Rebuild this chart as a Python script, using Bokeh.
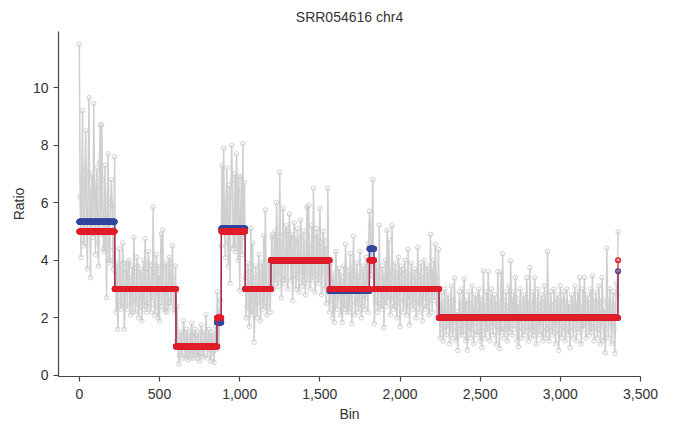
import numpy as np
from bokeh.plotting import figure
from bokeh.models import Range1d, FixedTicker, NumeralTickFormatter
from bokeh.embed import file_html
from bokeh.resources import INLINE

# ---- data ----
title_text = "SRR054616 chr4"
bin_step = 5   # grey ratio values alternate between the two lists below

# values at bins 0, 10, 20, ... 3360
ratio_even = [
    11.5, 4.1, 9.2, 4.6, 8.5, 3.7, 9.65, 3.4, 7.0, 9.45,
    4.2, 7.2, 3.8, 8.7, 8.7, 4.4, 7.3, 2.7, 7.7, 4.0,
    6.8, 3.7, 7.6, 2.2, 1.6, 4.4, 2.3, 4.6, 1.6, 3.9,
    2.3, 4.0, 2.1, 3.8, 4.8, 2.2, 4.1, 2.0, 3.7, 1.9,
    4.0, 4.75, 2.2, 4.3, 2.4, 3.8, 5.85, 2.1, 4.2, 2.0,
    1.9, 4.9, 5.05, 2.3, 3.9, 2.2, 4.1, 2.4, 4.5, 2.3,
    3.8, 2.4, 0.4, 1.5, 0.6, 1.9, 0.7, 1.6, 0.55, 1.5,
    1.8, 0.6, 1.6, 0.7, 1.5, 0.5, 1.75, 0.65, 1.5, 2.1,
    0.6, 1.6, 0.5, 1.4, 0.45, 1.7, 2.9, 1.0, 2.6, 7.3,
    7.9, 4.1, 7.2, 3.8, 3.2, 8.0, 4.4, 7.0, 7.7, 4.0,
    2.95, 6.9, 8.05, 6.7, 2.0, 3.9, 1.7, 5.1, 4.6, 1.15,
    3.8, 2.0, 4.2, 1.9, 3.9, 4.85, 5.75, 2.1, 3.8, 2.2,
    4.8, 3.0, 5.0, 6.0, 3.1, 7.05, 2.7, 5.8, 3.2, 5.2,
    3.0, 5.6, 3.3, 2.6, 5.3, 3.0, 5.1, 2.9, 5.4, 3.1,
    5.0, 2.8, 5.85, 5.9, 3.0, 5.2, 6.5, 2.9, 5.1, 3.2,
    5.8, 2.8, 5.0, 3.0, 2.5, 6.5, 2.2, 3.9, 2.0, 1.85,
    4.3, 2.3, 3.7, 2.1, 1.84, 3.8, 4.55, 2.2, 3.6, 4.23,
    1.8, 4.83, 2.1, 3.9, 2.2, 4.3, 2.0, 3.8, 2.3, 4.1,
    2.2, 5.7, 3.5, 6.8, 1.8, 3.9, 2.2, 5.22, 2.4, 3.8,
    1.67, 4.0, 5.04, 4.7, 2.1, 5.2, 2.3, 3.9, 2.0, 4.1,
    1.7, 3.8, 2.2, 4.0, 2.1, 4.38, 1.75, 3.9, 2.3, 3.7,
    2.0, 4.45, 2.2, 3.9, 1.9, 4.0, 2.3, 3.8, 2.1, 4.9,
    2.2, 4.0, 4.56, 2.0, 4.38, 1.3, 2.9, 1.2, 3.0, 1.4,
    2.8, 1.1, 3.1, 1.3, 3.38, 1.2, 0.87, 2.9, 1.4, 3.0,
    3.35, 1.2, 0.87, 2.9, 1.3, 3.1, 1.1, 2.8, 1.4, 3.0,
    1.2, 0.97, 3.63, 1.3, 2.9, 3.6, 1.2, 3.0, 1.4, 2.8,
    1.1, 3.6, 0.93, 3.6, 4.23, 1.3, 2.9, 1.2, 3.1, 3.98,
    1.4, 2.9, 3.4, 1.2, 1.0, 3.0, 1.3, 2.8, 1.4, 3.4,
    1.2, 3.75, 1.3, 2.9, 3.4, 1.1, 3.0, 1.4, 2.8, 1.2,
    3.1, 1.3, 4.3, 1.2, 2.9, 1.4, 3.0, 1.1, 2.8, 0.87,
    3.1, 1.3, 2.9, 1.2, 3.0, 1.4, 0.97, 2.8, 1.3, 3.1,
    1.2, 2.9, 3.4, 1.1, 3.0, 3.4, 1.3, 2.8, 1.4, 3.0,
    3.45, 1.2, 2.9, 1.3, 3.1, 1.1, 3.4, 1.2, 0.79, 4.42,
    1.3, 3.0, 1.1, 2.9, 0.77, 3.2, 4.98,
]

# values at bins 5, 15, 25, ... 3355
ratio_odd = [
    6.2, 6.8, 4.5, 7.1, 5.0, 6.9, 5.6, 6.4, 4.8, 6.6,
    6.5, 4.6, 7.4, 4.9, 6.8, 4.3, 5.2, 6.1, 3.9, 6.0,
    5.9, 4.4, 3.6, 3.9, 2.6, 3.7, 2.5, 3.9, 2.4, 3.6,
    3.9, 2.5, 3.4, 2.2, 3.6, 2.6, 3.8, 2.4, 3.5, 2.7,
    2.3, 3.7, 2.5, 3.9, 2.2, 2.6, 3.6, 2.4, 3.8, 3.5,
    3.7, 2.4, 3.6, 2.2, 3.8, 2.5, 3.9, 2.6, 3.4, 2.2,
    1.2, 1.4, 0.7, 1.3, 1.0, 1.5, 0.6, 1.3, 0.8, 0.6,
    1.4, 0.8, 1.4, 0.6, 1.3, 0.8, 1.5, 0.7, 0.9, 1.4,
    1.2, 0.9, 1.5, 0.8, 1.3, 0.9, 2.2, 1.8, 4.5, 5.0,
    5.2, 6.0, 4.6, 6.6, 6.2, 6.8, 4.5, 4.3, 6.4, 6.9,
    5.0, 4.2, 4.8, 3.4, 2.4, 3.6, 2.3, 2.1, 3.4, 2.2,
    2.5, 3.5, 2.6, 3.7, 2.3, 2.4, 3.6, 2.4, 3.9, 3.2,
    4.9, 3.4, 3.2, 4.8, 3.5, 4.6, 3.3, 4.9, 3.4, 5.0,
    4.1, 4.8, 4.9, 3.5, 4.7, 3.4, 4.6, 3.6, 4.8, 3.3,
    3.6, 4.6, 3.2, 4.5, 3.6, 3.3, 4.7, 3.5, 4.8, 3.4,
    4.6, 3.6, 4.7, 4.5, 3.4, 3.6, 2.6, 3.5, 3.4, 2.5,
    3.6, 2.7, 3.5, 3.4, 2.5, 2.3, 3.7, 2.4, 2.2, 3.5,
    3.3, 3.6, 2.5, 3.4, 2.6, 3.5, 2.4, 3.6, 2.7, 3.8,
    4.6, 5.2, 4.1, 3.4, 2.6, 3.6, 2.5, 3.7, 2.3, 3.4,
    3.2, 2.4, 2.6, 3.5, 2.7, 3.6, 2.4, 3.4, 2.5, 3.6,
    3.0, 3.5, 2.6, 3.6, 2.4, 3.3, 2.7, 3.5, 2.5, 3.4,
    2.6, 3.6, 2.5, 3.4, 2.7, 3.7, 2.4, 3.5, 2.6, 3.6,
    3.5, 2.6, 3.4, 2.5, 2.4, 2.3, 1.6, 2.5, 1.7, 2.6,
    1.8, 2.4, 1.6, 2.6, 1.9, 2.2, 1.5, 2.5, 1.7, 1.4,
    2.4, 2.6, 1.7, 2.5, 1.6, 2.3, 1.8, 2.6, 1.5, 2.7,
    2.6, 1.8, 2.4, 1.6, 1.5, 2.5, 1.7, 2.6, 1.8, 2.4,
    1.7, 2.5, 1.6, 1.5, 2.6, 1.6, 2.4, 1.7, 1.5, 2.6,
    2.5, 1.6, 2.7, 2.5, 1.8, 2.4, 1.6, 2.6, 1.7, 2.5,
    1.6, 2.5, 1.7, 1.4, 2.6, 1.6, 2.4, 1.8, 2.5, 1.5,
    2.6, 1.6, 2.5, 1.7, 2.4, 1.6, 2.5, 1.8, 2.6, 1.5,
    2.5, 1.7, 2.6, 1.6, 2.4, 2.5, 1.8, 2.6, 1.6, 2.4,
    2.5, 1.5, 2.4, 1.7, 1.6, 2.6, 1.8, 2.5, 1.6, 1.5,
    2.4, 1.7, 2.6, 1.6, 2.5, 1.8, 2.6, 2.3, 1.6, 2.5,
    2.4, 1.8, 2.5, 1.6, 2.3, 2.8,
]

# copy-number segments (first bin of each segment)
seg_start = [0, 221, 603, 859, 886, 1035, 1195, 1561, 1810, 1839, 2244, 3360]
n_bins = 3361
copy_number = [5, 3, 1, 2, 5, 3, 4, 3, 4, 3, 2, 4]                              # red
seg_median = [5.34, 3.0, 1.0, 1.84, 5.1, 3.0, 4.0, 2.93, 4.4, 3.0, 2.0, 3.62]   # blue

x_ticks = [0, 500, 1000, 1500, 2000, 2500, 3000, 3500]
y_ticks = [0, 2, 4, 6, 8, 10]

# ---- derived arrays ----
ratio = np.empty(len(ratio_even) + len(ratio_odd))
ratio[0::2] = ratio_even
ratio[1::2] = ratio_odd
ratio_bins = np.arange(len(ratio)) * bin_step

lengths = np.diff(seg_start + [n_bins])
cn_bins = np.arange(n_bins)
cn_red = np.repeat(copy_number, lengths)
cn_blue = np.repeat(seg_median, lengths)

FONT = "Liberation Sans"
GREY = "#cfcfd2"
RED = "#e01f2a"
BLUE = "#33479e"

p = figure(width=673, height=424,
           x_range=Range1d(-130, 3500), y_range=Range1d(-0.04, 11.95),
           output_backend="svg", toolbar_location=None,
           min_border_left=58, min_border_right=33,
           min_border_top=30, min_border_bottom=48)

p.title.text = title_text
p.title.align = "center"
p.title.text_font = FONT
p.title.text_font_size = "14px"
p.title.text_font_style = "normal"
p.title.text_color = "#333333"
p.title.standoff = 13

p.line(ratio_bins, ratio, line_color=GREY, line_width=1.5)
p.scatter(ratio_bins, ratio, marker="circle", size=4.5, line_color=GREY,
          line_width=1, fill_color=None)

p.line(cn_bins, cn_blue, line_color=BLUE, line_width=1.3)
p.scatter(cn_bins, cn_blue, marker="circle", size=4.5, line_color=BLUE,
          line_width=1.6, fill_color=None)
p.line(cn_bins, cn_red, line_color=RED, line_width=1.3, line_alpha=0.85)
p.scatter(cn_bins, cn_red, marker="circle", size=4.5, line_color=RED,
          line_width=1.6, fill_color=None)

p.grid.visible = False
p.outline_line_color = None
p.background_fill_color = "white"
p.border_fill_color = "white"

p.xaxis.ticker = FixedTicker(ticks=x_ticks)
p.yaxis.ticker = FixedTicker(ticks=y_ticks)
p.xaxis.formatter = NumeralTickFormatter(format="0,0")
p.xaxis.axis_label = "Bin"
p.yaxis.axis_label = "Ratio"

for ax in (p.xaxis, p.yaxis):
    ax.axis_line_color = "#444444"
    ax.axis_line_width = 1.2
    ax.major_tick_line_color = "#444444"
    ax.major_tick_line_width = 1.2
    ax.major_tick_in = 0
    ax.major_tick_out = 5
    ax.minor_tick_line_color = None
    ax.major_label_text_font = FONT
    ax.major_label_text_font_size = "14px"
    ax.major_label_text_color = "#333333"
    ax.axis_label_text_font = FONT
    ax.axis_label_text_font_size = "14px"
    ax.axis_label_text_font_style = "normal"
    ax.axis_label_text_color = "#333333"

p.xaxis.major_label_standoff = 7
p.xaxis.axis_label_standoff = 4
p.yaxis.major_label_standoff = 5
p.yaxis.axis_label_standoff = 3

open("out.html", "w").write(file_html(p, INLINE))
